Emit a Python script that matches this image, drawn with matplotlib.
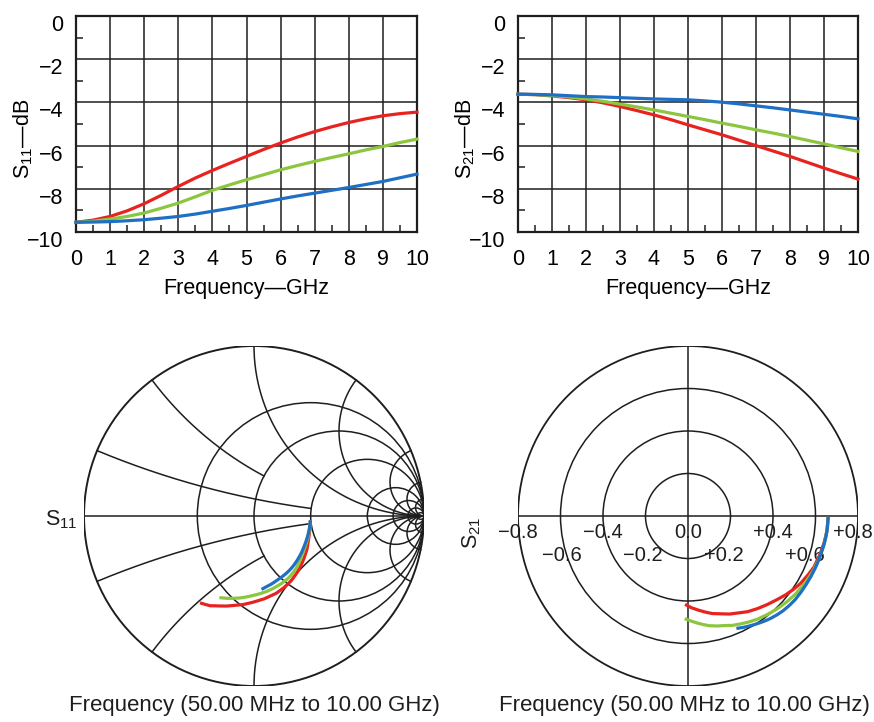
import numpy as np
import matplotlib
matplotlib.use("Agg")
from matplotlib import pyplot as plt
from matplotlib.patches import Circle
from matplotlib.transforms import ScaledTranslation

plt.rcParams['font.family'] = ['Liberation Sans', 'DejaVu Sans']
plt.rcParams['mathtext.fontset'] = 'custom'
plt.rcParams['mathtext.rm'] = 'Liberation Sans'
plt.rcParams['mathtext.it'] = 'Liberation Sans:italic'

# frequency points, GHz
freq = [0, 0.5, 1, 1.5, 2, 2.5, 3, 3.5, 4, 4.5, 5, 5.5, 6, 6.5, 7, 7.5, 8, 8.5, 9, 9.5, 10]

# S11 magnitude, dB
s11_db_red = [-9.55, -9.45, -9.28, -9.02, -8.69, -8.30, -7.89, -7.50, -7.15, -6.82, -6.50,
              -6.18, -5.88, -5.60, -5.35, -5.13, -4.93, -4.76, -4.62, -4.52, -4.45]
s11_db_green = [-9.55, -9.50, -9.40, -9.28, -9.12, -8.90, -8.66, -8.37, -8.07, -7.82, -7.58,
                -7.35, -7.12, -6.92, -6.73, -6.55, -6.38, -6.20, -6.04, -5.86, -5.70]
s11_db_blue = [-9.55, -9.54, -9.52, -9.48, -9.43, -9.36, -9.28, -9.17, -9.04, -8.91, -8.77,
               -8.62, -8.47, -8.33, -8.20, -8.07, -7.94, -7.80, -7.66, -7.49, -7.32]

# S11 phase, degrees
s11_ph_red = [-6, -12, -19, -26, -32, -40, -47, -54, -60, -67, -74,
              -83, -91, -97, -103, -107, -111, -114, -116, -119, -121]
s11_ph_green = [-6, -12, -18, -24, -30, -36, -41, -46, -51, -56, -61,
                -68, -75, -81, -87, -92, -96, -100, -104, -108, -112]
s11_ph_blue = [-6, -10, -14, -18, -22, -26, -30, -34, -38, -42, -46,
               -50, -54, -58, -62, -66, -70, -73, -76, -80, -83]

# S21 magnitude, dB
s21_db_red = [-3.62, -3.64, -3.70, -3.78, -3.88, -4.02, -4.19, -4.38, -4.58, -4.80, -5.04,
              -5.27, -5.50, -5.75, -6.00, -6.25, -6.50, -6.77, -7.04, -7.30, -7.55]
s21_db_green = [-3.62, -3.64, -3.68, -3.75, -3.84, -3.95, -4.08, -4.21, -4.35, -4.50, -4.65,
                -4.80, -4.96, -5.11, -5.27, -5.42, -5.58, -5.75, -5.92, -6.10, -6.27]
s21_db_blue = [-3.62, -3.63, -3.65, -3.69, -3.73, -3.75, -3.78, -3.81, -3.84, -3.86, -3.88,
               -3.93, -3.99, -4.07, -4.16, -4.25, -4.35, -4.45, -4.55, -4.65, -4.76]

# S21 phase, degrees
s21_ph_red = [-1, -6, -11, -16, -22, -26, -31, -35, -39, -43, -48,
              -53, -58, -62, -67, -71, -76, -80, -84, -88, -91]
s21_ph_green = [-1, -6, -12, -18, -24, -30, -36, -41, -46, -51, -56,
                -60, -64, -68, -71, -75, -79, -82, -85, -88, -91]
s21_ph_blue = [-1, -4.5, -8, -11.5, -15, -18.5, -22, -26, -30, -34, -38,
               -41.5, -45, -48, -51, -53.5, -56, -58.5, -61, -63.5, -66]

# polar chart scale labels
row1 = [-0.8, -0.4, 0.0, 0.4, 0.8]
row1_labels = ['\u22120.8', '\u22120.4', '0.0', '+0.4', '+0.8']
row2 = [-0.6, -0.2, 0.2, 0.6]
row2_labels = ['\u22120.6', '\u22120.2', '+0.2', '+0.6']

RED, GREEN, BLUE = '#e8231f', '#8cc63f', '#1f6fc4'
INK = '#1e1e1e'
TRACE_LW = 2.3

fig = plt.figure(figsize=(8.74, 7.22), dpi=100)


def db_plot(rect, ylabel, series):
    ax = fig.add_axes(rect)
    for y, c in series:
        ax.plot(freq, y, color=c, lw=TRACE_LW, zorder=3, clip_on=False)
    ax.set_xlim(0, 10)
    ax.set_ylim(-10, 0)
    ax.set_xticks(range(11))
    ax.set_yticks(range(-10, 1, 2))
    ax.set_xticks(np.arange(0.5, 10, 1), minor=True)
    ax.set_yticks(range(-9, 0, 2), minor=True)
    ax.grid(True, which='major', color=INK, lw=1.1)
    ax.tick_params(which='major', length=0, labelsize=15.5, pad=12)
    ax.tick_params(axis='y', which='major', pad=9)
    ax.tick_params(which='minor', direction='in', length=5, width=1.1, color=INK)
    for s in ax.spines.values():
        s.set_linewidth(1.6)
        s.set_color(INK)
    off = ScaledTranslation(0, -5 / 72, fig.dpi_scale_trans)
    for lab in ax.get_yticklabels():
        lab.set_transform(lab.get_transform() + off)
    ax.set_xlabel('Frequency\u2014GHz', fontsize=15.5)
    ax.xaxis.set_label_coords(0.5, -0.215)
    ax.set_ylabel(ylabel, fontsize=15.5)
    ax.yaxis.set_label_coords(-0.12, 0.43)
    return ax


db_plot([76 / 874, 1 - 232 / 722, 341 / 874, 216 / 722], 'S$_{11}$\u2014dB',
        [(s11_db_red, RED), (s11_db_green, GREEN), (s11_db_blue, BLUE)])
db_plot([518 / 874, 1 - 232 / 722, 340 / 874, 216 / 722], 'S$_{21}$\u2014dB',
        [(s21_db_red, RED), (s21_db_green, GREEN), (s21_db_blue, BLUE)])


def to_complex(db, ph):
    return 10 ** (np.array(db) / 20) * np.exp(1j * np.deg2rad(ph))


# Smith chart
ax3 = fig.add_axes([84 / 874, 1 - 686 / 722, 340 / 874, 340 / 722])
ax3.set_xlim(-1, 1)
ax3.set_ylim(-1, 1)
ax3.set_aspect('equal')
ax3.axis('off')
glw = 1.1
ax3.add_patch(Circle((0, 0), 1, fill=False, lw=1.4, color=INK))
for r in [0.5, 1, 2, 5, 10, 20, 50]:
    ax3.add_patch(Circle((r / (1 + r), 0), 1 / (1 + r), fill=False, lw=glw, color=INK))
ax3.plot([-1, 1], [0, 0], color=INK, lw=glw)


def x_arc(x, r0, r1):
    r = np.tan(np.linspace(np.arctan(r0), np.arctan(r1), 400))
    z = r + 1j * x
    g = (z - 1) / (z + 1)
    ax3.plot(g.real, g.imag, color=INK, lw=glw)


for xv in [1, 2, 5, 10, 20]:
    x_arc(xv, 0, np.inf)
    x_arc(-xv, 0, np.inf)
for xv, rend in [(0.2, 2), (0.5, 1)]:
    x_arc(xv, 0, rend)
    x_arc(-xv, 0, rend)

for db, ph, c in [(s11_db_red, s11_ph_red, RED), (s11_db_green, s11_ph_green, GREEN),
                  (s11_db_blue, s11_ph_blue, BLUE)]:
    g = to_complex(db, ph)
    ax3.plot(g.real, g.imag, color=c, lw=TRACE_LW, zorder=3)

# polar chart
ax4 = fig.add_axes([518 / 874, 1 - 686 / 722, 340 / 874, 340 / 722])
ax4.set_xlim(-0.8, 0.8)
ax4.set_ylim(-0.8, 0.8)
ax4.set_aspect('equal')
ax4.axis('off')
for rr in [0.2, 0.4, 0.6, 0.8]:
    ax4.add_patch(Circle((0, 0), rr, fill=False, lw=1.3 if rr == 0.8 else glw, color=INK))
ax4.plot([-0.8, 0.8], [0, 0], color=INK, lw=glw)
ax4.plot([0, 0], [-0.8, 0.8], color=INK, lw=glw)

# small leftward nudges (points) as in the original layout
nudge1 = [0, 0, 0, 0, -4]
nudge2 = [1, -2, -5, -8]
for xv, t, dx in zip(row1, row1_labels, nudge1):
    tr = ax4.transData + ScaledTranslation(dx / 72, 0, fig.dpi_scale_trans)
    ax4.text(xv, -0.078, t, ha='center', va='center', fontsize=14.5, color=INK, transform=tr)
for xv, t, dx in zip(row2, row2_labels, nudge2):
    tr = ax4.transData + ScaledTranslation(dx / 72, 0, fig.dpi_scale_trans)
    ax4.text(xv, -0.188, t, ha='center', va='center', fontsize=14.5, color=INK, transform=tr)

for db, ph, c in [(s21_db_red, s21_ph_red, RED), (s21_db_green, s21_ph_green, GREEN),
                  (s21_db_blue, s21_ph_blue, BLUE)]:
    g = to_complex(db, ph)
    ax4.plot(g.real, g.imag, color=c, lw=TRACE_LW, zorder=3)

fig.text(45 / 874, 1 - 520 / 722, 'S$_{11}$', ha='left', va='center', fontsize=15.5, color=INK)
fig.text(472 / 874, 1 - 533 / 722, 'S$_{21}$', ha='center', va='center', rotation=90,
         fontsize=15.5, color=INK)
fig.text(254 / 874, 1 - 705 / 722, 'Frequency (50.00 MHz to 10.00 GHz)', ha='center',
         va='center', fontsize=16, color=INK)
fig.text(684 / 874, 1 - 705 / 722, 'Frequency (50.00 MHz to 10.00 GHz)', ha='center',
         va='center', fontsize=16, color=INK)

fig.savefig('out.png', dpi=100)
